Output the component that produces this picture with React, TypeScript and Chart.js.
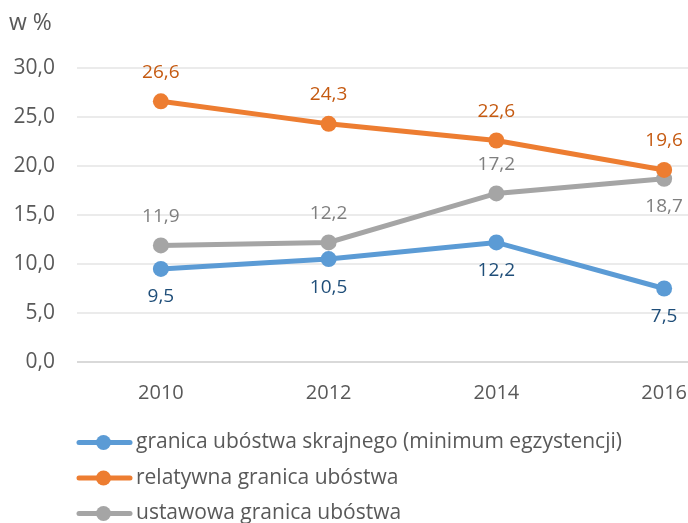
import React, { useEffect, useRef } from "react";
import { Chart, registerables } from "chart.js";

Chart.register(...registerables);

const years = ["2010", "2012", "2014", "2016"];
const extremePoverty = [9.5, 10.5, 12.2, 7.5];
const relativePoverty = [26.6, 24.3, 22.6, 19.6];
const statutoryPoverty = [11.9, 12.2, 17.2, 18.7];
const seriesNames = [
  "granica ubóstwa skrajnego (minimum egzystencji)",
  "relatywna granica ubóstwa",
  "ustawowa granica ubóstwa",
];
const yTicks = [0, 5, 10, 15, 20, 25, 30];
const yTitle = "w %";

const FONT = "'Open Sans', sans-serif";
const fmt = (v: number) => v.toFixed(1).replace(".", ",");

const labelPlugin = {
  id: "customDecor",
  afterDatasetsDraw(chart: any) {
    const ctx = chart.ctx;
    ctx.save();
    // data labels
    chart.data.datasets.forEach((ds: any, i: number) => {
      const meta = chart.getDatasetMeta(i);
      meta.data.forEach((pt: any, j: number) => {
        const pos = ds.labelPos[j];
        const dy = pos === "above" ? -29 : 28;
        ctx.font = `19px ${FONT}`;
        ctx.fillStyle = ds.labelColor;
        ctx.textAlign = "center";
        ctx.textBaseline = "middle";
        ctx.fillText(fmt(ds.data[j]), pt.x, pt.y + dy);
      });
    });
    // y axis title
    ctx.font = `23px ${FONT}`;
    ctx.fillStyle = "#595959";
    ctx.textAlign = "left";
    ctx.textBaseline = "middle";
    ctx.fillText(yTitle, 9, 23);
    // legend
    chart.data.datasets.forEach((ds: any, i: number) => {
      const y = 442.5 + i * 35.5;
      ctx.strokeStyle = ds.borderColor;
      ctx.lineWidth = 5;
      ctx.lineCap = "round";
      ctx.beginPath();
      ctx.moveTo(79, y);
      ctx.lineTo(130, y);
      ctx.stroke();
      ctx.fillStyle = ds.borderColor;
      ctx.beginPath();
      ctx.arc(103.5, y, 7.5, 0, Math.PI * 2);
      ctx.fill();
      ctx.font = `21px ${FONT}`;
      ctx.fillStyle = "#595959";
      ctx.textAlign = "left";
      ctx.textBaseline = "middle";
      ctx.fillText(ds.label, 136, y);
    });
    ctx.restore();
  },
};

export default function App() {
  const ref = useRef<HTMLCanvasElement>(null);
  useEffect(() => {
    if (!ref.current) return;
    const mk = (label: string, data: number[], color: string, labelColor: string, labelPos: string[]) => ({
      label,
      data,
      borderColor: color,
      backgroundColor: color,
      pointBackgroundColor: color,
      pointBorderColor: color,
      borderWidth: 5,
      pointRadius: 8,
      pointHoverRadius: 8,
      pointBorderWidth: 0,
      tension: 0,
      labelColor,
      labelPos,
    });
    const chart = new Chart(ref.current, {
      type: "line",
      data: {
        labels: years,
        datasets: [
          mk(seriesNames[0], extremePoverty, "#5B9BD5", "#1F4E79", ["below", "below", "below", "below"]),
          mk(seriesNames[1], relativePoverty, "#ED7D31", "#C55A11", ["above", "above", "above", "above"]),
          mk(seriesNames[2], statutoryPoverty, "#A5A5A5", "#7F7F7F", ["above", "above", "above", "below"]),
        ] as any,
      },
      options: {
        responsive: false,
        animation: false,
        devicePixelRatio: 1,
        layout: { padding: { top: 68, left: 0, right: 0, bottom: 128 } },
        plugins: { legend: { display: false }, tooltip: { enabled: false } },
        scales: {
          x: {
            type: "category",
            offset: true,
            grid: { display: false, drawTicks: false },
            border: { display: false },
            ticks: { color: "#595959", font: { family: FONT, size: 20 }, padding: 19 },
            afterFit: (s: any) => {
              s.height = 50;
              s.paddingLeft = 0;
              s.paddingRight = 0;
            },
          },
          y: {
            min: 0,
            max: 30,
            afterBuildTicks: (s: any) => {
              s.ticks = yTicks.map((v) => ({ value: v }));
            },
            grid: {
              drawTicks: false,
              lineWidth: 2,
              color: (c: any) => (c.tick && c.tick.value === 0 ? "#D9D9D9" : "#EBEBEB"),
            },
            border: { display: false },
            ticks: {
              color: "#595959",
              font: { family: FONT, size: 21 },
              padding: 22,
              callback: (v: any) => fmt(Number(v)),
            },
            afterFit: (s: any) => {
              s.width = 77;
              s.paddingTop = 0;
              s.paddingBottom = 0;
            },
          },
        },
      },
      plugins: [labelPlugin],
    });
    return () => chart.destroy();
  }, []);
  return (
    <div style={{ position: "absolute", left: 0, top: 0, width: 688, height: 523, overflow: "hidden", background: "#fff" }}>
      <canvas ref={ref} width={756} height={540} style={{ width: 756, height: 540, display: "block" }} />
    </div>
  );
}
